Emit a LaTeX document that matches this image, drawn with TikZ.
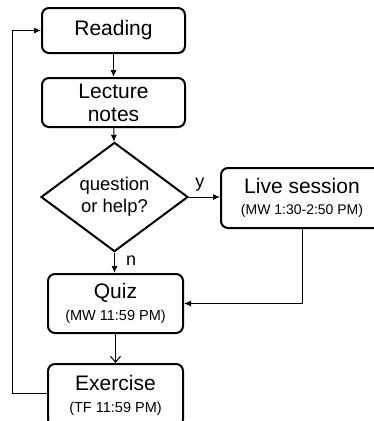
\documentclass[tikz,border=0pt]{standalone}
\usepackage{fontspec}
\setmainfont{Liberation Sans}
\usetikzlibrary{shapes.geometric,arrows.meta}
\begin{document}
\begin{tikzpicture}[x=1pt,y=-1pt,
  box/.style={draw,line width=2pt,rounded corners=7pt,inner sep=0pt,align=center,font=\fontsize{21}{23}\selectfont},
  dia/.style={draw,diamond,line width=2pt,inner sep=0pt,align=center,minimum width=147pt,minimum height=84pt,font=\fontsize{18.5}{22}\selectfont},
  conn/.style={line width=1pt,-{Latex[length=7pt,width=6pt]}},
  openconn/.style={line width=1pt,-{Straight Barb[length=6pt,width=10pt]}},
  lab/.style={font=\fontsize{18}{20}\selectfont,inner sep=0pt}]
\useasboundingbox (0,0) rectangle (374,421);
\clip (0,0) rectangle (374,421);
\node[box,minimum width=143pt,minimum height=45pt] (read) at (113.5,30.5) {Reading};
\node[box,minimum width=143pt,minimum height=49pt] (lect) at (113.5,102.5) {Lecture\\notes};
\node[dia] (q) at (114.5,197) {question\\or help?};
\node[box,minimum width=162pt,minimum height=60pt] (live) at (302,198) {Live session\\[-2pt]{\fontsize{14}{16}\selectfont (MW 1:30-2:50 PM)}};
\node[box,minimum width=135pt,minimum height=59pt] (quiz) at (115.5,303.5) {Quiz\\[-1pt]{\fontsize{14.5}{16}\selectfont (MW 11:59 PM)}};
\node[box,minimum width=135pt,minimum height=62pt] (ex) at (115.5,395) {Exercise\\[-1pt]{\fontsize{14.5}{16}\selectfont (TF 11:59 PM)}};
\coordinate (lt) at (12.7,393);
\coordinate (lb) at (12.7,30.5);
\draw[conn] (read) -- (lect);
\draw[conn] (lect) -- (q);
\draw[conn] (q.east) -- (q.east -| live.west) node[lab,pos=0.35,above=5pt] (y) {y};
\draw[conn] (q.south) -- (quiz.north -| q.south) node[lab,pos=0.4,right=11pt] (n) {n};
\draw[conn] (live.south) |- (quiz.east);
\draw[openconn] (quiz) -- (ex);
\draw[conn] (ex.west |- lt) -- (lt) -- (lb) -- (read.west);
\end{tikzpicture}
\end{document}
